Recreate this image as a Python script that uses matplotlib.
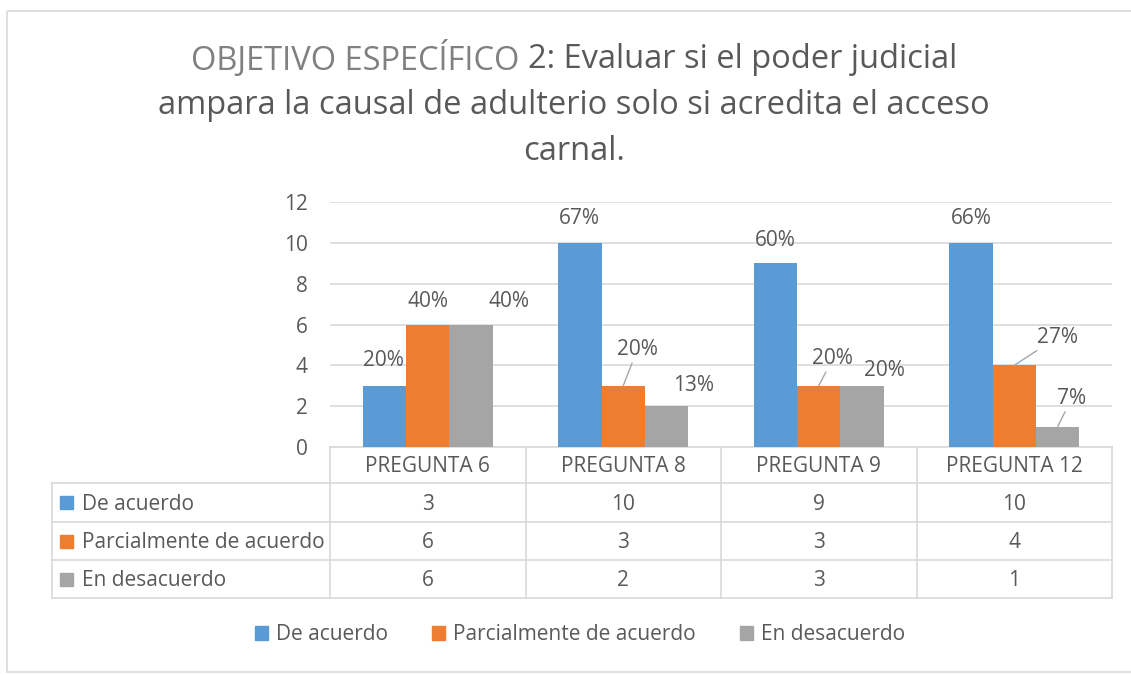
import numpy as np
import matplotlib
matplotlib.use('Agg')
import matplotlib.pyplot as plt
import matplotlib.transforms as mtransforms
from matplotlib.lines import Line2D
from matplotlib.patches import Rectangle

# datos
preguntas = ['PREGUNTA 6', 'PREGUNTA 8', 'PREGUNTA 9', 'PREGUNTA 12']
series = ['De acuerdo', 'Parcialmente de acuerdo', 'En desacuerdo']
de_acuerdo = [3, 10, 9, 10]
parcial = [6, 3, 3, 4]
desacuerdo = [6, 2, 3, 1]
pct_de_acuerdo = ['20%', '67%', '60%', '66%']
pct_parcial = ['40%', '20%', '20%', '27%']
pct_desacuerdo = ['40%', '13%', '20%', '7%']

colores = ['#5B9BD5', '#ED7D31', '#A5A5A5']
gris_txt = '#595959'
gris_lin = '#D9D9D9'
fs = 15

# desplazamiento de las etiquetas (pixeles) y si llevan linea guia
desp = [[(-1, 25), (0, 24), (0, 23), (0, 24)],
        [(0, 23), (14, 36), (14, 27), (43, 28)],
        [(38, 23), (27, 21), (22, 15), (14, 28)]]
guia = [[False, False, False, False],
        [False, True, True, True],
        [False, False, False, True]]

W, H = 1131, 675
plt.rcParams['font.family'] = ['Open Sans', 'DejaVu Sans']
fig = plt.figure(figsize=(W / 100, H / 100), dpi=100)
px = mtransforms.Affine2D().scale(1 / W, -1 / H).translate(0, 1) + fig.transFigure

# marco exterior
fig.patches.append(Rectangle((7, 11), 1135, 661, transform=px, fill=False,
                             edgecolor=gris_lin, lw=1.2))

ax = fig.add_axes([330 / W, 1 - 447 / H, (1112 - 330) / W, (447 - 202) / H])
x = np.arange(len(preguntas))
ancho = 0.222
valores = [de_acuerdo, parcial, desacuerdo]
pcts = [pct_de_acuerdo, pct_parcial, pct_desacuerdo]
for k in range(3):
    xs = x + (k - 1) * ancho
    ax.bar(xs, valores[k], ancho, color=colores[k], zorder=3)
    for i in range(len(preguntas)):
        props = None
        if guia[k][i]:
            props = dict(arrowstyle='-', color='#A5A5A5', lw=1, shrinkA=0, shrinkB=0)
        ax.annotate(pcts[k][i], (xs[i], valores[k][i]), xytext=desp[k][i],
                    textcoords='offset pixels', ha='center', va='center',
                    fontsize=fs, color=gris_txt, arrowprops=props, zorder=4)

ax.set_xlim(-0.5, 3.5)
ax.set_ylim(0, 12)
ax.set_yticks(range(0, 13, 2))
ax.set_xticks([])
ax.grid(axis='y', color=gris_lin, lw=1.2, zorder=0)
for s in ['top', 'right', 'left']:
    ax.spines[s].set_visible(False)
ax.spines['bottom'].set_color(gris_lin)
ax.spines['bottom'].set_linewidth(1.2)
ax.tick_params(axis='y', length=0, pad=16, labelsize=fs, labelcolor=gris_txt)

# tabla de datos
col = mtransforms.blended_transform_factory(ax.transData, px)
filas_y = [502, 541, 579]
for xb in np.arange(-0.5, len(preguntas), 1.0):
    fig.add_artist(Line2D([xb, xb], [447, 598], transform=col, color=gris_lin, lw=1.2))
for yl in [483, 522, 560, 598]:
    fig.add_artist(Line2D([52, 1112], [yl, yl], transform=px, color=gris_lin, lw=1.2))
fig.add_artist(Line2D([52, 52], [483, 598], transform=px, color=gris_lin, lw=1.2))
for i, p in enumerate(preguntas):
    fig.text(x[i], 467, p, transform=col, ha='center', va='center',
             fontsize=fs, color=gris_txt)
for k in range(3):
    fig.patches.append(Rectangle((60, filas_y[k] - 6.5), 13, 13, transform=px,
                                 color=colores[k]))
    fig.text(82, filas_y[k] + 2, series[k], transform=px, ha='left', va='center',
             fontsize=fs, color=gris_txt)
    for i in range(len(preguntas)):
        fig.text(x[i], filas_y[k] + 2, str(valores[k][i]), transform=col,
                 ha='center', va='center', fontsize=fs, color=gris_txt)

# leyenda inferior
handles = [Rectangle((0, 0), 1, 1, color=c) for c in colores]
fig.legend(handles, series, loc='center', bbox_to_anchor=(580 / W, 1 - 635 / H),
           ncol=3, frameon=False, fontsize=fs, labelcolor=gris_txt,
           handlelength=0.63, handleheight=0.63, handletextpad=0.38,
           columnspacing=2.1)

# titulo (dos colores en la primera linea)
rend = fig.canvas.get_renderer()
t1 = fig.text(0, 1 - 59 / H, 'OBJETIVO ESPECÍFICO ', fontsize=23.5, color='#808080',
              ha='left', va='center')
t2 = fig.text(0, 1 - 59 / H, '2: Evaluar si el poder judicial', fontsize=23.5,
              color=gris_txt, ha='left', va='center')
w1 = t1.get_window_extent(rend).width
w2 = t2.get_window_extent(rend).width
x0 = 574 - (w1 + w2) / 2
t1.set_x(x0 / W)
t2.set_x((x0 + w1) / W)
fig.text(574 / W, 1 - 105 / H, 'ampara la causal de adulterio solo si acredita el acceso',
         fontsize=23.5, color=gris_txt, ha='center', va='center')
fig.text(574 / W, 1 - 152 / H, 'carnal.', fontsize=23.5, color=gris_txt,
         ha='center', va='center')

fig.savefig('out.png', dpi=100)
